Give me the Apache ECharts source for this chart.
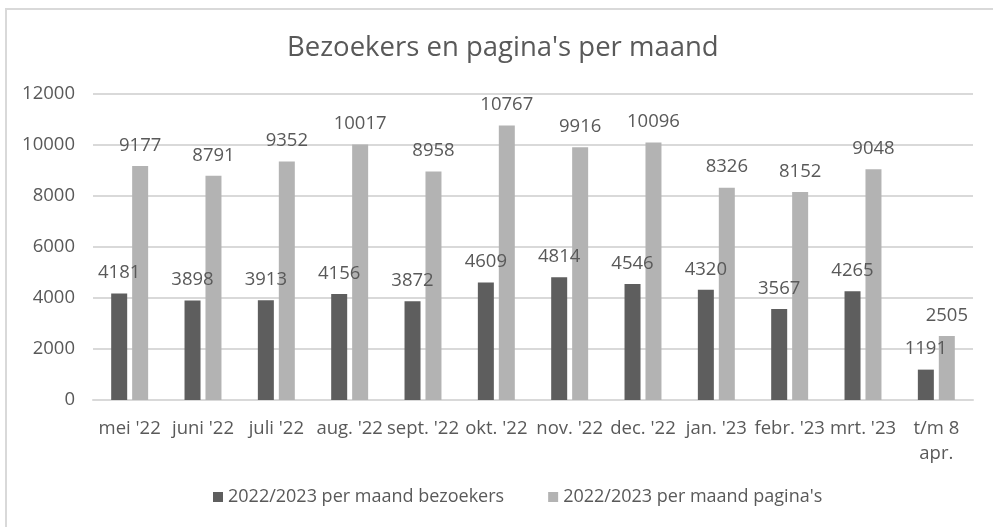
<!DOCTYPE html>
<html>
<head>
<meta charset="utf-8">
<script src="https://cdn.jsdelivr.net/npm/echarts@6/dist/echarts.min.js"></script>
<style>
html,body{margin:0;padding:0;background:#fff;}
#c{width:993px;height:527px;}
</style>
</head>
<body>
<div id="c"></div>
<script>
const categories = ["mei '22","juni '22","juli '22","aug. '22","sept. '22","okt. '22","nov. '22","dec. '22","jan. '23","febr. '23","mrt. '23","t/m 8\napr."];
const bezoekers = [4181,3898,3913,4156,3872,4609,4814,4546,4320,3567,4265,1191];
const paginas = [9177,8791,9352,10017,8958,10767,9916,10096,8326,8152,9048,2505];
const yTicks = {min:0,max:12000,interval:2000};
const seriesNames = ["2022/2023 per maand bezoekers","2022/2023 per maand pagina's"];
const titleText = "Bezoekers en pagina's per maand";

const FONT = "Open Sans";
const TXT = "#595959";
const chart = echarts.init(document.getElementById('c'), null, {renderer:'canvas'});
const labelStyle = {show:true, position:'top', distance:11, color:TXT, fontSize:18.5, fontFamily:FONT};
chart.setOption({
  animation:false,
  backgroundColor:'#fff',
  title:{text:titleText,left:282,top:29,textStyle:{color:TXT,fontSize:27.5,fontWeight:'normal',fontFamily:FONT}},
  legend:{top:483,left:208,itemWidth:10,itemHeight:10,itemGap:44,icon:'rect',
    textStyle:{color:TXT,fontSize:18,fontFamily:FONT}},
  grid:{left:93,right:20,top:94,bottom:127},
  xAxis:{type:'category',data:categories,
    axisLine:{lineStyle:{color:'#d9d9d9',width:2}},axisTick:{show:false},
    axisLabel:{interval:0,color:TXT,fontSize:18.5,fontFamily:FONT,margin:16,lineHeight:25}},
  yAxis:{type:'value',min:yTicks.min,max:yTicks.max,interval:yTicks.interval,
    axisLine:{show:false},axisTick:{show:false},
    splitLine:{lineStyle:{color:'#d9d9d9',width:2}},
    axisLabel:{color:TXT,fontSize:18.5,fontFamily:FONT,margin:18,formatter:v=>String(v)}},
  graphic:[
    {type:'line',shape:{x1:6,y1:9,x2:993,y2:9},style:{stroke:'#d9d9d9',lineWidth:2},z:-1},
    {type:'line',shape:{x1:6,y1:8,x2:6,y2:527},style:{stroke:'#d9d9d9',lineWidth:2},z:-1}
  ],
  series:[
    {name:seriesNames[0],type:'bar',data:bezoekers,barWidth:16,barGap:'31%',itemStyle:{color:'#5e5e5e'},label:labelStyle},
    {name:seriesNames[1],type:'bar',data:paginas,barWidth:16,itemStyle:{color:'#b3b3b3'},label:labelStyle}
  ]
});
</script>
</body>
</html>
